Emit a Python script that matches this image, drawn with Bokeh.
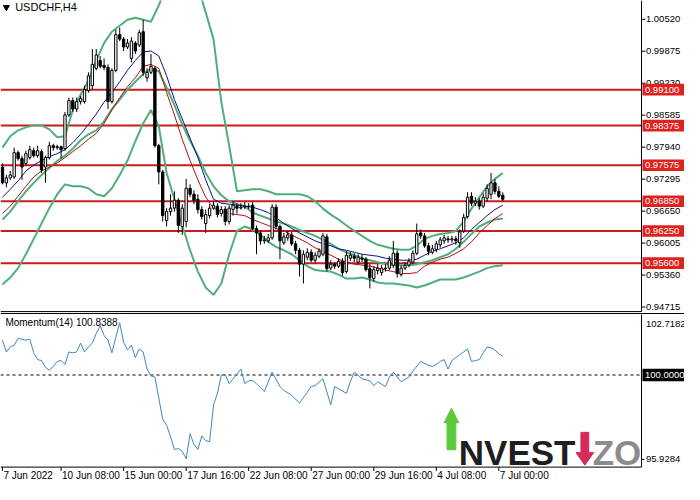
from bokeh.plotting import figure
from bokeh.layouts import column
from bokeh.models import Range1d, ColumnDataSource
from bokeh.embed import file_html
from bokeh.resources import INLINE
from bokeh.core.properties import value

# ---------------- data (USDCHF H4) ----------------
opens = [0.9754, 0.9722, 0.9732, 0.9734, 0.9783, 0.9771, 0.9761, 0.9773, 0.9787, 0.9777,
         0.9785, 0.9754, 0.9773, 0.9797, 0.9793, 0.9795, 0.9791, 0.9859, 0.9888, 0.9871,
         0.9886, 0.9886, 0.9908, 0.9918, 0.9953, 0.9969, 0.9959, 0.9955, 0.9886, 0.9949,
         1.0021, 1.0012, 0.9996, 0.9973, 1.0004, 1.0000, 1.0027, 0.9934, 0.9945, 0.9953,
         0.9797, 0.9744, 0.9646, 0.9664, 0.9671, 0.9687, 0.9634, 0.9644, 0.9711, 0.9699,
         0.9689, 0.9668, 0.9640, 0.9656, 0.9671, 0.9675, 0.9660, 0.9669, 0.9644, 0.9668,
         0.9675, 0.9671, 0.9673, 0.9675, 0.9677, 0.9630, 0.9621, 0.9605, 0.9605, 0.9611,
         0.9673, 0.9634, 0.9601, 0.9611, 0.9617, 0.9599, 0.9586, 0.9558, 0.9572, 0.9582,
         0.9566, 0.9574, 0.9578, 0.9613, 0.9550, 0.9558, 0.9554, 0.9564, 0.9543, 0.9570,
         0.9574, 0.9562, 0.9570, 0.9568, 0.9549, 0.9529, 0.9545, 0.9541, 0.9550, 0.9550,
         0.9556, 0.9580, 0.9537, 0.9550, 0.9556, 0.9562, 0.9580, 0.9621, 0.9615, 0.9595,
         0.9582, 0.9588, 0.9597, 0.9605, 0.9609, 0.9607, 0.9609, 0.9601, 0.9625, 0.9654,
         0.9695, 0.9681, 0.9685, 0.9675, 0.9691, 0.9699, 0.9722, 0.9705, 0.9697]
highs = [0.9761, 0.9738, 0.9746, 0.9793, 0.9787, 0.9777, 0.9787, 0.9797, 0.9793, 0.9797,
         0.9789, 0.9777, 0.9805, 0.9801, 0.9799, 0.9797, 0.9865, 0.9894, 0.9894, 0.9894,
         0.9898, 0.9918, 0.9945, 0.9992, 0.9992, 0.9978, 0.9973, 0.9961, 0.9953, 1.0031,
         1.0035, 1.0016, 1.0012, 1.0016, 1.0008, 1.0031, 1.0051, 0.9953, 0.9982, 0.9957,
         0.9801, 0.9748, 0.9671, 0.9699, 0.9705, 0.9691, 0.9679, 0.9730, 0.9719, 0.9707,
         0.9699, 0.9675, 0.9668, 0.9679, 0.9685, 0.9681, 0.9675, 0.9675, 0.9677, 0.9685,
         0.9681, 0.9681, 0.9683, 0.9681, 0.9683, 0.9636, 0.9625, 0.9615, 0.9619, 0.9679,
         0.9679, 0.9638, 0.9621, 0.9625, 0.9623, 0.9605, 0.9591, 0.9586, 0.9590, 0.9588,
         0.9582, 0.9590, 0.9621, 0.9619, 0.9566, 0.9562, 0.9570, 0.9570, 0.9584, 0.9582,
         0.9580, 0.9578, 0.9578, 0.9572, 0.9558, 0.9554, 0.9558, 0.9556, 0.9558, 0.9574,
         0.9605, 0.9586, 0.9556, 0.9562, 0.9570, 0.9586, 0.9640, 0.9628, 0.9621, 0.9601,
         0.9597, 0.9605, 0.9613, 0.9617, 0.9615, 0.9615, 0.9615, 0.9628, 0.9660, 0.9703,
         0.9703, 0.9693, 0.9691, 0.9701, 0.9719, 0.9742, 0.9730, 0.9715, 0.9703]
lows = [0.9719, 0.9713, 0.9728, 0.9730, 0.9767, 0.9728, 0.9758, 0.9769, 0.9773, 0.9773,
        0.9742, 0.9722, 0.9769, 0.9787, 0.9789, 0.9771, 0.9787, 0.9855, 0.9865, 0.9865,
        0.9880, 0.9882, 0.9904, 0.9910, 0.9949, 0.9953, 0.9949, 0.9871, 0.9882, 0.9945,
        1.0008, 0.9988, 0.9992, 0.9965, 0.9982, 0.9996, 0.9938, 0.9926, 0.9941, 0.9793,
        0.9719, 0.9644, 0.9634, 0.9656, 0.9664, 0.9621, 0.9617, 0.9632, 0.9693, 0.9679,
        0.9660, 0.9648, 0.9621, 0.9650, 0.9668, 0.9652, 0.9654, 0.9636, 0.9638, 0.9656,
        0.9660, 0.9668, 0.9669, 0.9669, 0.9627, 0.9578, 0.9597, 0.9599, 0.9601, 0.9607,
        0.9628, 0.9568, 0.9597, 0.9605, 0.9595, 0.9578, 0.9533, 0.9519, 0.9566, 0.9562,
        0.9560, 0.9570, 0.9574, 0.9543, 0.9546, 0.9548, 0.9550, 0.9535, 0.9539, 0.9564,
        0.9562, 0.9558, 0.9562, 0.9543, 0.9509, 0.9523, 0.9537, 0.9535, 0.9543, 0.9546,
        0.9550, 0.9531, 0.9533, 0.9546, 0.9552, 0.9558, 0.9576, 0.9609, 0.9591, 0.9576,
        0.9578, 0.9582, 0.9591, 0.9599, 0.9601, 0.9601, 0.9597, 0.9591, 0.9621, 0.9650,
        0.9675, 0.9675, 0.9668, 0.9671, 0.9685, 0.9689, 0.9699, 0.9691, 0.9685]
closes = [0.9722, 0.9732, 0.9738, 0.9783, 0.9771, 0.9754, 0.9781, 0.9789, 0.9777, 0.9787,
          0.9748, 0.9773, 0.9797, 0.9793, 0.9795, 0.9789, 0.9859, 0.9888, 0.9871, 0.9886,
          0.9892, 0.9910, 0.9938, 0.9961, 0.9980, 0.9957, 0.9955, 0.9886, 0.9949, 1.0021,
          1.0012, 0.9996, 1.0004, 1.0008, 0.9988, 1.0025, 0.9945, 0.9945, 0.9957, 0.9797,
          0.9744, 0.9656, 0.9664, 0.9671, 0.9687, 0.9636, 0.9671, 0.9711, 0.9699, 0.9687,
          0.9668, 0.9654, 0.9658, 0.9671, 0.9677, 0.9658, 0.9668, 0.9644, 0.9671, 0.9677,
          0.9671, 0.9673, 0.9675, 0.9674, 0.9630, 0.9621, 0.9605, 0.9607, 0.9611, 0.9673,
          0.9634, 0.9605, 0.9613, 0.9617, 0.9599, 0.9586, 0.9558, 0.9578, 0.9582, 0.9566,
          0.9576, 0.9584, 0.9615, 0.9549, 0.9558, 0.9554, 0.9564, 0.9541, 0.9576, 0.9576,
          0.9570, 0.9572, 0.9568, 0.9547, 0.9531, 0.9547, 0.9550, 0.9550, 0.9549, 0.9566,
          0.9580, 0.9539, 0.9550, 0.9556, 0.9564, 0.9580, 0.9619, 0.9615, 0.9595, 0.9584,
          0.9589, 0.9599, 0.9607, 0.9611, 0.9607, 0.9609, 0.9605, 0.9623, 0.9652, 0.9693,
          0.9681, 0.9685, 0.9675, 0.9693, 0.9711, 0.9722, 0.9705, 0.9695, 0.9689]

# indicator lines, read every 2nd bar
line_idx = list(range(0, 129, 2))
bb_upper = [0.9793, 0.9816, 0.9828, 0.9834, 0.9838, 0.9838, 0.9830, 0.9814, 0.9816, 0.9869,
            0.9900, 0.9928, 0.9969, 1.0004, 1.0027, 1.0039, 1.0051, 1.0055, 1.0051, 1.0047,
            1.0080, 1.0119, 1.0149, 1.0164, 1.0154, 1.0119, 1.0066, 1.0012, 0.9885, 0.9797,
            0.9705, 0.9707, 0.9709, 0.9709, 0.9705, 0.9699, 0.9699, 0.9699, 0.9699, 0.9695,
            0.9685, 0.9670, 0.9658, 0.9648, 0.9636, 0.9625, 0.9615, 0.9605, 0.9597, 0.9593,
            0.9589, 0.9587, 0.9587, 0.9595, 0.9609, 0.9615, 0.9619, 0.9621, 0.9625, 0.9644,
            0.9670, 0.9693, 0.9715, 0.9730, 0.9742]
bb_middle = [0.9648, 0.9664, 0.9685, 0.9705, 0.9722, 0.9738, 0.9752, 0.9766, 0.9777, 0.9791,
             0.9808, 0.9820, 0.9828, 0.9846, 0.9871, 0.9890, 0.9910, 0.9926, 0.9941, 0.9953,
             0.9947, 0.9914, 0.9879, 0.9840, 0.9807, 0.9777, 0.9742, 0.9715, 0.9697, 0.9685,
             0.9679, 0.9675, 0.9662, 0.9656, 0.9650, 0.9644, 0.9640, 0.9634, 0.9627, 0.9621,
             0.9615, 0.9607, 0.9599, 0.9589, 0.9582, 0.9576, 0.9570, 0.9566, 0.9562, 0.9558,
             0.9556, 0.9556, 0.9556, 0.9558, 0.9562, 0.9566, 0.9572, 0.9578, 0.9589, 0.9603,
             0.9619, 0.9634, 0.9642, 0.9648, 0.9650]
bb_lower = [0.9517, 0.9531, 0.9550, 0.9578, 0.9609, 0.9640, 0.9671, 0.9699, 0.9719, 0.9715,
            0.9715, 0.9711, 0.9699, 0.9695, 0.9711, 0.9738, 0.9767, 0.9806, 0.9842, 0.9869,
            0.9836, 0.9742, 0.9689, 0.9636, 0.9586, 0.9543, 0.9511, 0.9496, 0.9519, 0.9578,
            0.9625, 0.9634, 0.9628, 0.9617, 0.9603, 0.9593, 0.9586, 0.9578, 0.9566, 0.9554,
            0.9546, 0.9544, 0.9543, 0.9537, 0.9529, 0.9529, 0.9531, 0.9527, 0.9521, 0.9519,
            0.9519, 0.9517, 0.9515, 0.9511, 0.9515, 0.9521, 0.9527, 0.9527, 0.9527, 0.9531,
            0.9537, 0.9543, 0.9550, 0.9554, 0.9556]
ma_blue = [0.9693, 0.9709, 0.9726, 0.9746, 0.9758, 0.9767, 0.9775, 0.9781, 0.9789, 0.9803,
           0.9820, 0.9840, 0.9861, 0.9885, 0.9904, 0.9926, 0.9949, 0.9969, 0.9986, 0.9988,
           0.9978, 0.9938, 0.9890, 0.9851, 0.9812, 0.9773, 0.9728, 0.9689, 0.9681, 0.9679,
           0.9677, 0.9675, 0.9673, 0.9668, 0.9662, 0.9652, 0.9640, 0.9630, 0.9621, 0.9613,
           0.9605, 0.9599, 0.9595, 0.9589, 0.9586, 0.9582, 0.9578, 0.9576, 0.9574, 0.9570,
           0.9568, 0.9566, 0.9566, 0.9568, 0.9576, 0.9584, 0.9589, 0.9595, 0.9601, 0.9611,
           0.9628, 0.9642, 0.9656, 0.9668, 0.9677]
ma_red = [0.9660, 0.9675, 0.9695, 0.9715, 0.9734, 0.9746, 0.9754, 0.9762, 0.9773, 0.9785,
          0.9797, 0.9810, 0.9822, 0.9842, 0.9869, 0.9894, 0.9916, 0.9934, 0.9957, 0.9961,
          0.9953, 0.9904, 0.9859, 0.9810, 0.9767, 0.9728, 0.9693, 0.9671, 0.9664, 0.9660,
          0.9658, 0.9656, 0.9648, 0.9642, 0.9636, 0.9630, 0.9625, 0.9617, 0.9609, 0.9601,
          0.9591, 0.9584, 0.9576, 0.9568, 0.9562, 0.9558, 0.9556, 0.9554, 0.9550, 0.9546,
          0.9543, 0.9539, 0.9539, 0.9541, 0.9554, 0.9562, 0.9568, 0.9572, 0.9580, 0.9589,
          0.9603, 0.9621, 0.9636, 0.9650, 0.9660]

# Momentum(14)
mom_idx = list(range(0, 66)) + [67, 69, 71, 72, 74, 76, 79, 80, 82, 84, 85, 88, 89, 90, 92, 94,
                                95, 96, 98, 99, 100, 102, 104, 105, 107, 109, 110, 111, 112,
                                113, 114, 115, 117, 118, 119, 120, 121, 122, 123, 124, 125,
                                126, 127, 128]
mom_val = [101.54, 101.02, 101.24, 101.32, 101.62, 101.58, 101.54, 101.58, 100.98, 100.68,
           100.64, 100.34, 100.21, 100.38, 100.60, 100.64, 100.47, 101.02, 100.98, 101.02,
           101.41, 101.02, 101.24, 101.41, 101.84, 102.18, 101.75, 101.54, 100.98, 101.67,
           102.31, 101.45, 101.11, 101.32, 100.77, 101.15, 101.02, 100.26, 99.96, 99.91,
           98.98, 98.04, 97.78, 97.27, 96.71, 96.75, 96.63, 96.29, 97.40, 96.93,
           96.71, 97.31, 97.10, 97.05, 98.68, 99.19, 100.00, 100.02, 99.62, 99.83,
           100.04, 100.26, 99.62, 99.74, 99.76, 99.62,
           99.27, 100.13, 99.49, 99.32, 99.10, 98.76, 99.49, 99.53, 99.83, 98.68, 99.49, 99.19,
           99.70, 100.13, 99.83, 99.74, 99.53, 99.70, 99.49, 99.91, 100.13, 99.70, 99.91,
           100.17, 100.60, 100.43, 100.38, 100.47, 100.60, 100.68, 100.26, 100.64, 100.90,
           101.02, 101.15, 100.60, 100.64, 100.68, 100.98, 101.24, 101.20, 101.11, 100.94,
           100.8388]

levels = [0.99100, 0.98375, 0.97575, 0.96850, 0.96250, 0.95600]
price_ticks = [1.00520, 0.99875, 0.99230, 0.98585, 0.97940, 0.97295, 0.96650, 0.96005, 0.95360, 0.94715]
time_ticks = [0, 15, 31, 47, 63, 79, 95, 111, 127]
time_labels = ["7 Jun 2022", "10 Jun 08:00", "15 Jun 00:00", "17 Jun 16:00", "22 Jun 08:00",
               "27 Jun 00:00", "29 Jun 16:00", "4 Jul 08:00", "7 Jul 00:00"]
mom_max = 102.7182
mom_min = 95.9284
mom_zero = 100.0
price_max = 1.00899
price_min = 0.94623
symbol = "USDCHF,H4"
mom_title = "Momentum(14) 100.8388"

# ---------------- geometry / style ----------------
FONT = "Liberation Sans"
FS = "9.5px"
GREEN = "#4fae7c"
LEVEL_RED = "#c81c1c"
BOX_RED = "#e0221e"
W = 684
H1, H2 = 314, 170

# one reference pixel in data units
XP = 0.25                                  # bar index per pixel (4 px per bar)
PP = (price_max - price_min) / 321.0       # price per pixel in the main panel
MP = (mom_max - mom_min) / 159.0           # momentum per pixel in the sub panel
AX = -0.5 + 656 * XP                       # x of the price scale line
XR = (-0.5, -0.5 + 700 * XP)


def bare(fig):
    fig.grid.visible = False
    fig.background_fill_color = "white"
    fig.border_fill_color = "white"
    fig.outline_line_color = None
    fig.min_border = 0


# ---------------- main price panel ----------------
p1 = figure(frame_width=W, frame_height=H1, x_range=Range1d(*XR),
            y_range=Range1d(price_max - 324 * PP, price_max),
            x_axis_location=None, y_axis_location=None,
            toolbar_location=None, output_backend="svg")
bare(p1)

n = len(closes)
idx = list(range(n))
up = [c >= o for o, c in zip(opens, closes)]
src_up = ColumnDataSource(dict(
    x=[i for i in idx if up[i]],
    top=[closes[i] for i in idx if up[i]],
    bottom=[opens[i] for i in idx if up[i]]))
src_dn = ColumnDataSource(dict(
    x=[i for i in idx if not up[i]],
    top=[opens[i] for i in idx if not up[i]],
    bottom=[closes[i] for i in idx if not up[i]]))

# horizontal levels
p1.segment(x0=[XR[0]] * len(levels), y0=levels, x1=[AX] * len(levels), y1=levels,
           line_color=LEVEL_RED, line_width=2)

# bands and averages
for ser in (bb_upper, bb_lower, bb_middle):
    p1.line(line_idx, ser, line_color=GREEN, line_width=2)
p1.line(line_idx, ma_red, line_color="#b01010", line_width=1)
p1.line(line_idx, ma_blue, line_color="#10108a", line_width=1)

# candles
p1.segment(x0=idx, y0=lows, x1=idx, y1=highs, line_color="black", line_width=1)
p1.vbar(x="x", top="top", bottom="bottom", width=0.6, source=src_up,
        fill_color="white", line_color="black", line_width=1)
p1.vbar(x="x", top="top", bottom="bottom", width=0.6, source=src_dn,
        fill_color="black", line_color="black", line_width=1)

# panel frames: price scale line, bottom border, top border of the sub window
sub_top = price_max - 323 * PP
p1.segment(x0=[AX, XR[0], XR[0]], y0=[price_min, price_min, sub_top],
           x1=[AX, AX, XR[1]], y1=[price_max, price_min, sub_top],
           line_color="black", line_width=1)

# price scale ticks and labels
p1.segment(x0=[AX] * len(price_ticks), y0=price_ticks,
           x1=[AX + 4 * XP] * len(price_ticks), y1=price_ticks, line_color="black")
p1.text(x=[AX + 4.5 * XP] * len(price_ticks), y=price_ticks,
        text=["%.5f" % t for t in price_ticks], text_font=value(FONT),
        text_font_size=FS, text_color="black", text_baseline="middle", text_align="left")

# level boxes on the price scale
box_cx = (AX + 1 * XP + XR[1]) / 2
p1.rect(x=[box_cx] * len(levels), y=levels, width=XR[1] - AX - 1 * XP, height=12 * PP,
        fill_color=BOX_RED, line_color=None)
p1.text(x=[AX + 3.5 * XP] * len(levels), y=levels, text=["%.5f" % lv for lv in levels],
        text_font=value(FONT), text_font_size=FS, text_color="white",
        text_baseline="middle", text_align="left")

# symbol title
p1.scatter(x=[-0.5 + 6 * XP], y=[price_max - 7 * PP], marker="inverted_triangle",
           size=6, fill_color="black", line_color="black")
p1.text(x=[-0.5 + 15 * XP], y=[price_max - 7 * PP], text=[symbol], text_font=value(FONT),
        text_font_size="11px", text_color="black", text_baseline="middle")

# ---------------- momentum panel ----------------
p2 = figure(frame_width=W, frame_height=H2, x_range=p1.x_range,
            y_range=Range1d(mom_max - 177 * MP, mom_max - 1 * MP),
            x_axis_location=None, y_axis_location=None,
            toolbar_location=None, output_backend="svg")
bare(p2)

# frame: bottom border and scale line
p2.segment(x0=[XR[0], AX], y0=[mom_min, mom_min],
           x1=[AX, AX], y1=[mom_min, mom_max], line_color="black", line_width=1)

# zero line (100) dashed
p2.segment(x0=[XR[0]], y0=[mom_zero], x1=[AX], y1=[mom_zero],
           line_color="black", line_width=1, line_dash="3 3")

p2.line(mom_idx, mom_val, line_color="#3f86c4", line_width=1)

# momentum scale labels
p2.text(x=[AX + 4.5 * XP], y=[mom_max - 11 * MP], text=["%.4f" % mom_max],
        text_font=value(FONT), text_font_size=FS, text_color="black", text_baseline="middle")
p2.text(x=[AX + 4.5 * XP], y=[mom_min + 8 * MP], text=["%.4f" % mom_min],
        text_font=value(FONT), text_font_size=FS, text_color="black", text_baseline="middle")
p2.segment(x0=[AX], y0=[mom_min + 8 * MP], x1=[AX + 3 * XP], y1=[mom_min + 8 * MP],
           line_color="black")
p2.rect(x=[box_cx], y=[mom_zero], width=XR[1] - AX - 1 * XP, height=13 * MP,
        fill_color="black", line_color=None)
p2.text(x=[AX + 3.5 * XP], y=[mom_zero], text=["%.4f" % mom_zero], text_font=value(FONT),
        text_font_size=FS, text_color="white", text_baseline="middle")

# indicator title
p2.text(x=[-0.5 + 5 * XP], y=[mom_max - 9 * MP], text=[mom_title], text_font=value(FONT),
        text_font_size="10px", text_color="black", text_baseline="middle")

# time scale
p2.segment(x0=time_ticks, y0=[mom_min] * len(time_ticks), x1=time_ticks,
           y1=[mom_min - 4 * MP] * len(time_ticks), line_color="black")
p2.text(x=[t + 1 * XP for t in time_ticks], y=[mom_min - 9 * MP] * len(time_ticks),
        text=time_labels, text_font=value(FONT), text_font_size="10px",
        text_color="black", text_baseline="middle", text_align="left")

# INVESTIZO logo (decoration, in reference-pixel offsets)
def lx(xr):
    return -0.5 + xr * XP
def ly(yr):
    return mom_max - (yr - 323) * MP
p2.patch([lx(v) for v in [454, 461.5, 469, 466, 466, 457, 457]],
         [ly(v) for v in [436, 421, 436, 436, 464, 464, 436]],
         fill_color="#5cc83a", line_color="#5cc83a")
p2.patch([lx(v) for v in [594, 602, 602, 607, 598, 589, 594]],
         [ly(v) for v in [446, 446, 467, 467, 480, 467, 467]],
         fill_color="#d62a5a", line_color="#d62a5a")
p2.text(x=[lx(469)], y=[ly(467)], text=["NVEST"], text_font=value(FONT),
        text_font_style="bold", text_font_size="35px", text_color="#1e1e1e",
        text_baseline="alphabetic")
p2.text(x=[lx(606)], y=[ly(467)], text=["ZO"], text_font=value(FONT),
        text_font_style="bold", text_font_size="35px", text_color="#8c8c8c",
        text_baseline="alphabetic")

layout = column(p1, p2, spacing=0)
open("out.html", "w").write(file_html(layout, INLINE))
